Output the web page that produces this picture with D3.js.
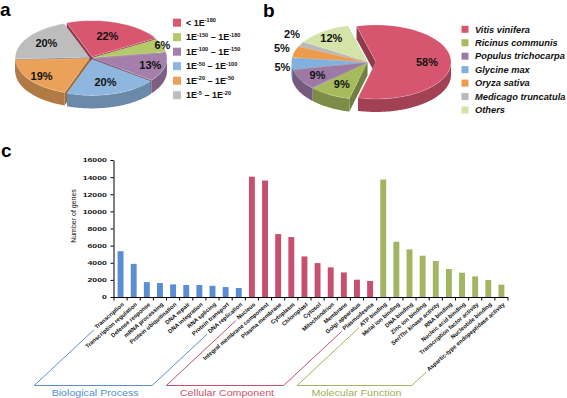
<!DOCTYPE html>
<html><head><meta charset="utf-8">
<script src="https://cdn.jsdelivr.net/npm/d3@7"></script>
<style>body{margin:0;background:#fff}svg{display:block}text{font-family:"Liberation Sans",Arial,sans-serif}</style>
</head><body><svg id="c" width="567" height="398"></svg>
<script>
// ---------- DATA ----------
const evalueLabels = ["< 1E^-180", "1E^-150 – 1E^-180", "1E^-100 – 1E^-150", "1E^-50 – 1E^-100", "1E^-20 – 1E^-50", "1E^-5 – 1E^-20"];
const evaluePct = [22, 6, 13, 20, 19, 20];
const speciesLabels = ["Vitis vinifera", "Ricinus communis", "Populus trichocarpa", "Glycine max", "Oryza sativa", "Medicago truncatula", "Others"];
const speciesPct = [58, 9, 9, 5, 5, 2, 12];
const bpTerms = ["Transcription", "Transcription regulation", "Defense response", "mRNA processing", "Protein ubiquitination", "DNA repair", "DNA integration", "RNA splicing", "Protein transport", "DNA replication"];
const bpCounts = [5350, 3870, 1740, 1630, 1470, 1400, 1400, 1310, 1160, 1050];
const ccTerms = ["Nucleus", "Integral membrane component", "Plasma membrane", "Cytoplasm", "Chloroplast", "Cytosol", "Mitochondrion", "Membrane", "Golgi apparatus", "Plasmodesma"];
const ccCounts = [14050, 13600, 7350, 7000, 4740, 3960, 3460, 2870, 2020, 1870];
const mfTerms = ["ATP binding", "Metal ion binding", "DNA binding", "Zinc ion binding", "Ser/Thr kinase activity", "RNA binding", "Nucleic acid binding", "Transcription factor activity", "Nucleotide binding", "Aspartic-type endopeptidase activity"];
const mfCounts = [13720, 6450, 5560, 4820, 4200, 3270, 2840, 2400, 1980, 1440];
const groupNames = ["Biological Process", "Cellular Component", "Molecular Function"];
const yTicks = [0, 2000, 4000, 6000, 8000, 10000, 12000, 14000, 16000];

// ---------- STYLE ----------
const colorsA = ["#d9566f", "#b5c86a", "#a57fab", "#8eb6df", "#eba15a", "#bdbdbd"];
const colorsB = ["#d6566f", "#a7bb5d", "#9d7aa5", "#7fb0de", "#ee9b4c", "#b9b9b9", "#d4e3a8"];
const groupColors = ["#5a8ed3", "#c8506f", "#a3b462"];
const groupTextColors = ["#4f8fd0", "#d0506e", "#9cb05a"];

const svg = d3.select("#c");
const deg = Math.PI / 180;

// panel letters
[["a", 0, 16], ["b", 263, 17], ["c", 1, 157]].forEach(([t, x, y]) =>
  svg.append("text").attr("x", x).attr("y", y).attr("font-size", 19).attr("font-weight", "bold").text(t));

// ---------- 3D PIE ----------
function pie3d(values, colors, o) {
  const g = svg.append("g");
  const arcs = d3.pie().sort(null).value(d => d).startAngle(o.start).endAngle(o.start + 2 * Math.PI)(values);
  const P = (a, r = 1) => [o.rx * r * Math.sin(a), -o.ry * r * Math.cos(a)];
  arcs.forEach((d, i) => {
    d.mid = (d.startAngle + d.endAngle) / 2;
    const e = o.explode[i];
    d.ox = o.cx + e * Math.sin(d.mid);
    d.oy = o.cy - e * (o.ry / o.rx) * Math.cos(d.mid);
  });
  const sides = g.append("g"), tops = g.append("g"), labs = g.append("g");
  const order = arcs.slice().sort((a, b) => (-Math.cos(a.mid)) - (-Math.cos(b.mid)));
  order.forEach(d => {
    const c = d3.color(colors[d.index]);
    const wall = c.darker(0.8), cut = c.darker(1.1);
    [d.startAngle, d.endAngle].forEach(a => {
      const p = P(a);
      const pts = [[d.ox, d.oy], [d.ox + p[0], d.oy + p[1]], [d.ox + p[0], d.oy + p[1] + o.h], [d.ox, d.oy + o.h]];
      sides.append("path").attr("d", "M" + pts.join("L") + "Z").attr("fill", cut);
    });
    const n = Math.max(2, Math.ceil((d.endAngle - d.startAngle) / (1 * deg)));
    let run = [];
    const flush = () => {
      if (run.length > 1) {
        const top = run.map(a => { const p = P(a); return [d.ox + p[0], d.oy + p[1]]; });
        const bot = top.slice().reverse().map(p => [p[0], p[1] + o.h]);
        sides.append("path").attr("d", "M" + top.concat(bot).join("L") + "Z").attr("fill", wall);
      }
      run = [];
    };
    for (let k = 0; k <= n; k++) {
      const a = d.startAngle + (d.endAngle - d.startAngle) * k / n;
      if (Math.cos(a) < 0.02) run.push(a); else flush();
    }
    flush();
  });
  arcs.forEach(d => {
    const n = Math.max(2, Math.ceil((d.endAngle - d.startAngle) / (1 * deg)));
    const pts = [[d.ox, d.oy]];
    for (let k = 0; k <= n; k++) {
      const a = d.startAngle + (d.endAngle - d.startAngle) * k / n;
      const p = P(a); pts.push([d.ox + p[0], d.oy + p[1]]);
    }
    tops.append("path").attr("d", "M" + pts.join("L") + "Z").attr("fill", colors[d.index])
      .attr("stroke", "#ffffff").attr("stroke-opacity", 0.35).attr("stroke-width", 0.6);
    const f = o.labelF[d.index];
    const lp = P(d.mid + (o.labelDA ? o.labelDA[d.index] : 0) * deg, f);
    labs.append("text").attr("x", d.ox + lp[0]).attr("y", d.oy + lp[1]).attr("dy", "0.36em")
      .attr("text-anchor", "middle").attr("font-size", 11).attr("font-weight", "bold").attr("fill", "#111")
      .text(d.data + "%");
  });
}

pie3d(evaluePct, colorsA, { cx: 91, cy: 58, rx: 74, ry: 36, h: 13, start: -20 * deg,
  explode: [3, 2, 2, 3, 2, 2], labelF: [0.62, 1.0, 0.8, 0.65, 0.8, 0.7] });
pie3d(speciesPct, colorsB, { cx: 368, cy: 62, rx: 75, ry: 37, h: 13, start: -15 * deg,
  explode: [8, 1.5, 1.5, 1.5, 1.5, 1.5, 1.5], labelF: [0.68, 0.68, 0.74, 1.13, 1.19, 1.25, 0.8],
  labelDA: [0, 0, 0, -4.5, 3, 9, 0] });

// legends
function richText(sel, str, fs) {
  const parts = str.split(/\^(-?\d+)/);
  parts.forEach((p, i) => {
    if (!p) return;
    if (i % 2 === 1) sel.append("tspan").attr("font-size", fs * 0.62).attr("dy", -fs * 0.38).text(p);
    else {
      const t = sel.append("tspan").text(p);
      if (i > 0) t.attr("dy", fs * 0.38);
    }
  });
}
const legA = svg.append("g");
evalueLabels.forEach((lab, i) => {
  const cy = 22.7 + i * 14.5;
  legA.append("rect").attr("x", 173).attr("y", cy - 4).attr("width", 8).attr("height", 8).attr("fill", colorsA[i]);
  const t = legA.append("text").attr("x", 186).attr("y", cy + 3.2).attr("font-size", 9).attr("font-weight", "bold").attr("fill", "#111");
  richText(t, lab, 9);
});
const legB = svg.append("g");
speciesLabels.forEach((lab, i) => {
  const cy = 29.3 + i * 13.45;
  legB.append("rect").attr("x", 461.5).attr("y", cy - 3.5).attr("width", 7).attr("height", 7).attr("fill", colorsB[i]);
  legB.append("text").attr("x", 475).attr("y", cy + 3.2).attr("font-size", 9.3).attr("font-weight", "bold")
    .attr("font-style", "italic").attr("fill", "#111").text(lab);
});

// ---------- BAR CHART ----------
const groups = [bpTerms, ccTerms, mfTerms];
const cats = [].concat(...groups);
const counts = [].concat(bpCounts, ccCounts, mfCounts);
const gOf = []; groups.forEach((arr, gi) => arr.forEach(() => gOf.push(gi)));
const x = d3.scaleBand().domain(cats).range([114, 508]).paddingInner(0.55).paddingOuter(0.275);
const y = d3.scaleLinear().domain([0, 16000]).range([297, 160]);
const bc = svg.append("g");
bc.selectAll("rect").data(cats).join("rect")
  .attr("x", d => x(d)).attr("width", x.bandwidth())
  .attr("y", (d, i) => y(counts[i])).attr("height", (d, i) => y(0) - y(counts[i]))
  .attr("fill", (d, i) => groupColors[gOf[i]]);

const ya = bc.append("g").attr("transform", "translate(113.5,0)")
  .call(d3.axisLeft(y).tickValues(yTicks).tickSize(3).tickSizeOuter(0).tickFormat(d3.format("d")));
ya.select(".domain").attr("stroke", "#000");
ya.selectAll(".tick line").attr("stroke", "#000");
ya.selectAll(".tick text").attr("font-family", "Liberation Sans, Arial, sans-serif").attr("font-size", 6)
  .attr("font-weight", "bold").attr("fill", "#111").attr("x", -4.6).attr("transform", "scale(1.45,1)");
svg.append("text").attr("transform", "translate(75.5,216) rotate(-90)").attr("text-anchor", "middle")
  .attr("font-size", 7).attr("fill", "#111").text("Number of genes");

// x axis
const xa = bc.append("g");
xa.append("line").attr("x1", 113.5).attr("x2", 508).attr("y1", 297.5).attr("y2", 297.5).attr("stroke", "#000");
d3.range(cats.length + 1).forEach(i => {
  const xx = x.range()[0] + i * x.step();
  xa.append("line").attr("x1", xx).attr("x2", xx).attr("y1", 297.5).attr("y2", 300.5).attr("stroke", "#000");
});
const labAng = 41, lineAng = 43;
const labNodes = [];
cats.forEach((c, i) => {
  const ex = x(c) + x.bandwidth() / 2 + 2.5, ey = 303.5;
  const t = xa.append("text").attr("transform", `translate(${ex},${ey}) rotate(${-labAng})`)
    .attr("text-anchor", "end").attr("dy", "0.35em").attr("font-size", 5.8).attr("font-weight", "bold")
    .attr("fill", "#111").text(c);
  labNodes.push({ node: t.node(), ex, ey });
});
// brackets
const bottomY = 385.5;
let start = 0;
groups.forEach((arr, gi) => {
  const first = labNodes[start], last = labNodes[start + arr.length - 1];
  start += arr.length;
  const topPt = (ln) => {
    const L = ln.node.getComputedTextLength() + 2;
    return [ln.ex - L * Math.cos(labAng * deg), ln.ey + L * Math.sin(labAng * deg) + 1];
  };
  const tl = topPt(first), tr = topPt(last);
  const bl = [tl[0] - (bottomY - tl[1]) / Math.tan(lineAng * deg), bottomY];
  const br = [tr[0] - (bottomY - tr[1]) / Math.tan(lineAng * deg), bottomY];
  svg.append("path").attr("d", "M" + [tl, bl, br, tr].join("L")).attr("fill", "none")
    .attr("stroke", groupColors[gi]).attr("stroke-width", 1);
  svg.append("text").attr("transform", `translate(${(bl[0] + br[0]) / 2 + 2},395.5) scale(1.3,1)`)
    .attr("text-anchor", "middle").attr("font-size", 8.2).attr("fill", groupTextColors[gi]).text(groupNames[gi]);
});
</script></body></html>
